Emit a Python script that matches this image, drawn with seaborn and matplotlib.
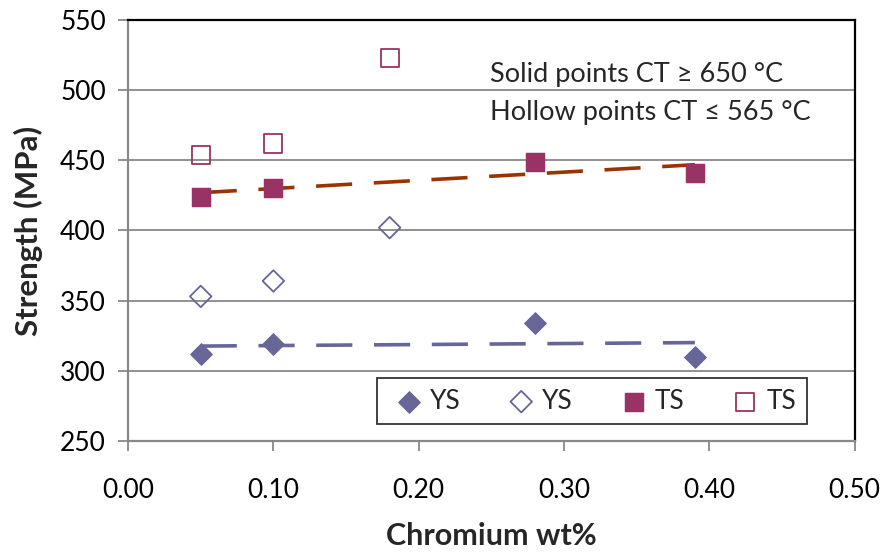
import numpy as np
import pandas as pd
import matplotlib
matplotlib.use("Agg")
import matplotlib.pyplot as plt
import seaborn as sns

# Data
ys_solid_x = [0.05, 0.10, 0.28, 0.39]
ys_solid_y = [312, 319, 334, 310]
ys_hollow_x = [0.05, 0.10, 0.18]
ys_hollow_y = [353, 364, 402]
ts_solid_x = [0.05, 0.10, 0.28, 0.39]
ts_solid_y = [424, 430, 449, 441]
ts_hollow_x = [0.05, 0.10, 0.18]
ts_hollow_y = [454, 462, 523]

x_ticks = [0.0, 0.1, 0.2, 0.3, 0.4, 0.5]
y_ticks = [250, 300, 350, 400, 450, 500, 550]

sns.set_theme(style="white")
plt.rcParams['font.family'] = ['Lato', 'DejaVu Sans']

fig = plt.figure(figsize=(8.83, 5.54), dpi=100)
ax = fig.add_axes([0.145, 0.204, 0.823, 0.760])

c_ys = "#666699"
c_ts = "#993366"
c_ts_line = "#993300"

# trend lines
sns.regplot(x=np.array(ts_solid_x), y=np.array(ts_solid_y), scatter=False, ci=None, truncate=True,
            ax=ax, line_kws=dict(color=c_ts_line, lw=2.6, dashes=(10, 6)))
sns.regplot(x=np.array(ys_solid_x), y=np.array(ys_solid_y), scatter=False, ci=None, truncate=True,
            ax=ax, line_kws=dict(color=c_ys, lw=2.6, dashes=(10, 6)))

sns.scatterplot(x=ys_solid_x, y=ys_solid_y, marker="D", s=120, color=c_ys, edgecolor=c_ys, ax=ax, label="YS", zorder=5)
sns.scatterplot(x=ys_hollow_x, y=ys_hollow_y, marker="D", s=120, facecolor="none", edgecolor=c_ys, linewidth=1.3, ax=ax, label="YS", zorder=5)
sns.scatterplot(x=ts_solid_x, y=ts_solid_y, marker="s", s=170, color=c_ts, edgecolor=c_ts, ax=ax, label="TS", zorder=5)
sns.scatterplot(x=ts_hollow_x, y=ts_hollow_y, marker="s", s=170, facecolor="none", edgecolor=c_ts, linewidth=1.3, ax=ax, label="TS", zorder=5)

ax.set_xlim(0, 0.5)
ax.set_ylim(250, 550)
ax.set_xticks(x_ticks)
ax.set_yticks(y_ticks)
ax.set_xticklabels([f"{v:.2f}" for v in x_ticks])
ax.set_yticklabels([str(v) for v in y_ticks])
ax.tick_params(axis='both', labelsize=19, labelcolor='black', color='#888888', length=7, width=1.3,
               direction='out', bottom=True, left=True)
ax.tick_params(axis='x', pad=20)
ax.tick_params(axis='y', pad=9)
ax.yaxis.grid(True, color='#888888', lw=1.3)
ax.xaxis.grid(False)
for s in ['left', 'bottom']:
    ax.spines[s].set_color('#888888')
    ax.spines[s].set_linewidth(1.6)
for s in ['top', 'right']:
    ax.spines[s].set_color('black')
    ax.spines[s].set_linewidth(1.6)

ax.set_xlabel("Chromium wt%", fontsize=22, fontweight='bold', labelpad=13)
ax.set_ylabel("Strength (MPa)", fontsize=22.5, fontweight='bold', labelpad=12)

ax.text(0.249, 511, "Solid points CT ≥ 650 °C", fontsize=19.5, ha='left', va='center')
ax.text(0.249, 484, "Hollow points CT ≤ 565 °C", fontsize=19.5, ha='left', va='center')

leg = ax.legend(loc='lower right', bbox_to_anchor=(0.934, 0.04), borderaxespad=0, ncol=4, fontsize=19,
                frameon=True, fancybox=False, edgecolor='black', handletextpad=0.0,
                columnspacing=1.5, borderpad=0.4, handlelength=1.6)
leg.get_frame().set_linewidth(1.3)

fig.savefig("out.png", dpi=100)
